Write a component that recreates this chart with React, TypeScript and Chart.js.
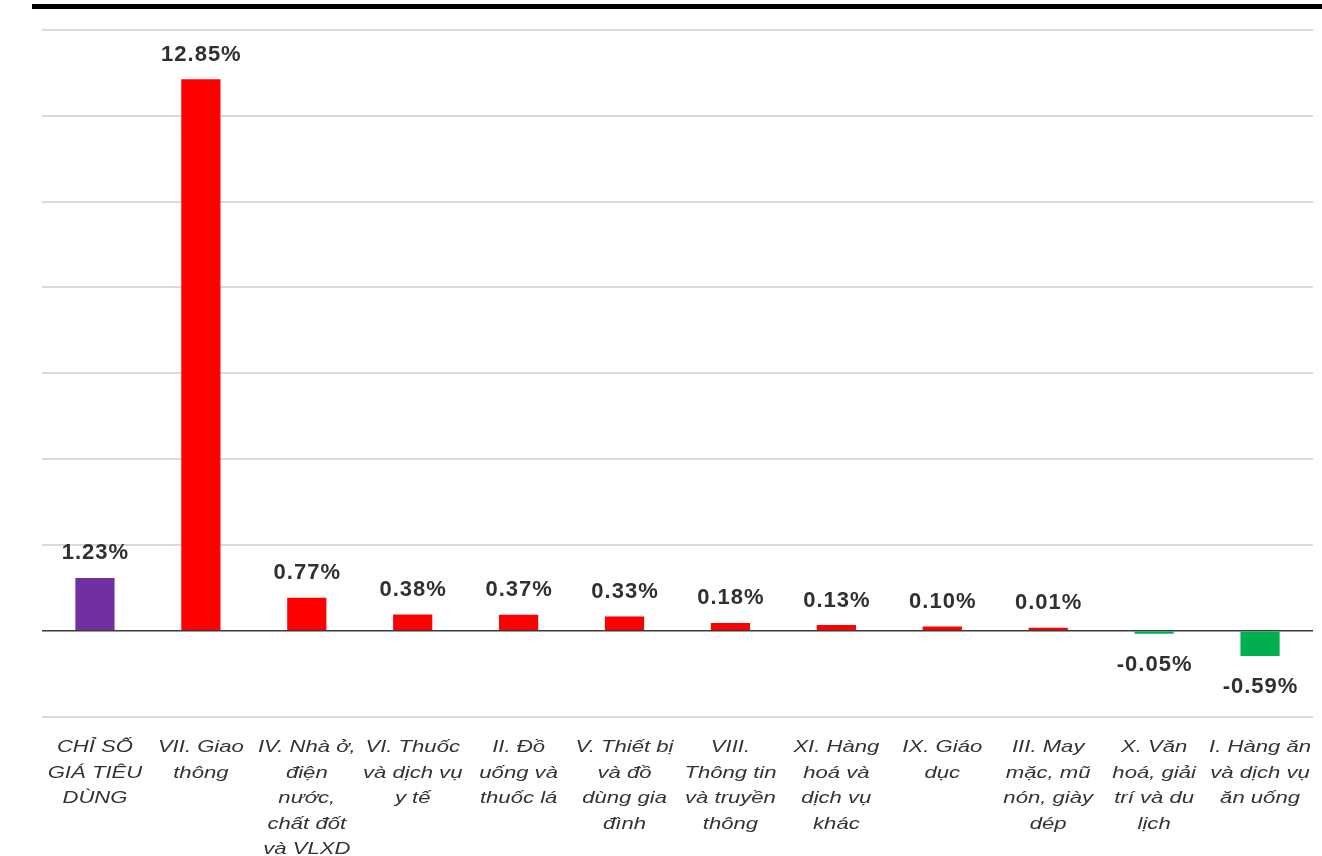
import React, { useEffect, useRef } from "react";
import { Chart, registerables } from "chart.js";

Chart.register(...registerables);

const categoryLines: string[][] = [
  ["CHỈ SỐ", "GIÁ TIÊU", "DÙNG"],
  ["VII. Giao", "thông"],
  ["IV. Nhà ở,", "điện", "nước,", "chất đốt", "và VLXD"],
  ["VI. Thuốc", "và dịch vụ", "y tế"],
  ["II. Đồ", "uống và", "thuốc lá"],
  ["V. Thiết bị", "và đồ", "dùng gia", "đình"],
  ["VIII.", "Thông tin", "và truyền", "thông"],
  ["XI. Hàng", "hoá và", "dịch vụ", "khác"],
  ["IX. Giáo", "dục"],
  ["III. May", "mặc, mũ", "nón, giày", "dép"],
  ["X. Văn", "hoá, giải", "trí và du", "lịch"],
  ["I. Hàng ăn", "và dịch vụ", "ăn uống"],
];

const values: number[] = [1.23, 12.85, 0.77, 0.38, 0.37, 0.33, 0.18, 0.13, 0.1, 0.01, -0.05, -0.59];

const valueLabels: string[] = [
  "1.23%", "12.85%", "0.77%", "0.38%", "0.37%", "0.33%",
  "0.18%", "0.13%", "0.10%", "0.01%", "-0.05%", "-0.59%",
];

const barColors: string[] = [
  "#7030A0", "#FF0000", "#FF0000", "#FF0000", "#FF0000", "#FF0000",
  "#FF0000", "#FF0000", "#FF0000", "#FF0000", "#00B050", "#00B050",
];

const yMin = -2;
const yMax = 14;
const yStep = 2;

const labelPlugin = {
  id: "customLabels",
  afterDatasetsDraw(chart: any) {
    const ctx: CanvasRenderingContext2D = chart.ctx;
    const meta = chart.getDatasetMeta(0);
    ctx.save();
    ctx.font = "bold 22px 'Liberation Sans', Arial, sans-serif";
    ctx.fillStyle = "#303030";
    ctx.textAlign = "center";
    ctx.textBaseline = "alphabetic";
    (ctx as any).letterSpacing = "1px";
    meta.data.forEach((bar: any, i: number) => {
      const p = bar.getProps(["x", "y", "base"], true);
      const v = values[i];
      if (v >= 0) {
        ctx.fillText(valueLabels[i], p.x + 0.5, Math.min(p.y, p.base) - 18.5);
      } else {
        ctx.fillText(valueLabels[i], p.x + 0.5, Math.max(p.y, p.base) + 37);
      }
    });
    (ctx as any).letterSpacing = "0px";
    ctx.font = "italic 17px 'Liberation Sans', Arial, sans-serif";
    ctx.fillStyle = "#333333";
    const xs = chart.scales.x;
    const top = chart.chartArea.bottom;
    categoryLines.forEach((lines, i) => {
      const cx = xs.getPixelForValue(i);
      lines.forEach((ln, j) => {
        ctx.save();
        ctx.translate(cx, top + 35.5 + j * 25.5);
        ctx.scale(1.3, 1);
        ctx.fillText(ln, 0, 0);
        ctx.restore();
      });
    });
    ctx.restore();
  },
};

export default function App() {
  const canvasRef = useRef<HTMLCanvasElement | null>(null);

  useEffect(() => {
    if (!canvasRef.current) return;
    const chart = new Chart(canvasRef.current, {
      type: "bar",
      data: {
        labels: categoryLines.map((l) => l.join(" ")),
        datasets: [
          {
            data: values,
            backgroundColor: barColors,
            borderWidth: 0,
            barPercentage: 0.37,
            categoryPercentage: 1,
            minBarLength: 3,
          },
        ],
      },
      options: {
        responsive: false,
        animation: false,
        layout: { padding: { left: 42, right: 9, top: 30, bottom: 139.5 } },
        plugins: {
          legend: { display: false },
          tooltip: { enabled: false },
        },
        scales: {
          x: { display: false },
          y: {
            min: yMin,
            max: yMax,
            ticks: { display: false, stepSize: yStep },
            border: { display: false },
            grid: {
              drawTicks: false,
              color: (c: any) => (c.tick && c.tick.value === 0 ? "#3a3a3a" : "#d9d9d9"),
              lineWidth: (c: any) => (c.tick && c.tick.value === 0 ? 1.5 : 2),
            },
            afterFit: (s: any) => {
              s.width = 0;
            },
          },
        },
      },
      plugins: [labelPlugin],
    });
    return () => chart.destroy();
  }, []);

  return (
    <div
      style={{
        position: "fixed",
        left: 0,
        top: 0,
        width: 1322,
        height: 856,
        background: "#ffffff",
        overflow: "hidden",
      }}
    >
      <div
        style={{
          position: "absolute",
          left: 32,
          top: 4,
          width: 1290,
          height: 4.5,
          background: "#000000",
        }}
      />
      <canvas
        ref={canvasRef}
        width={1322}
        height={856}
        style={{ position: "absolute", left: 0, top: 0, width: 1322, height: 856 }}
      />
    </div>
  );
}
